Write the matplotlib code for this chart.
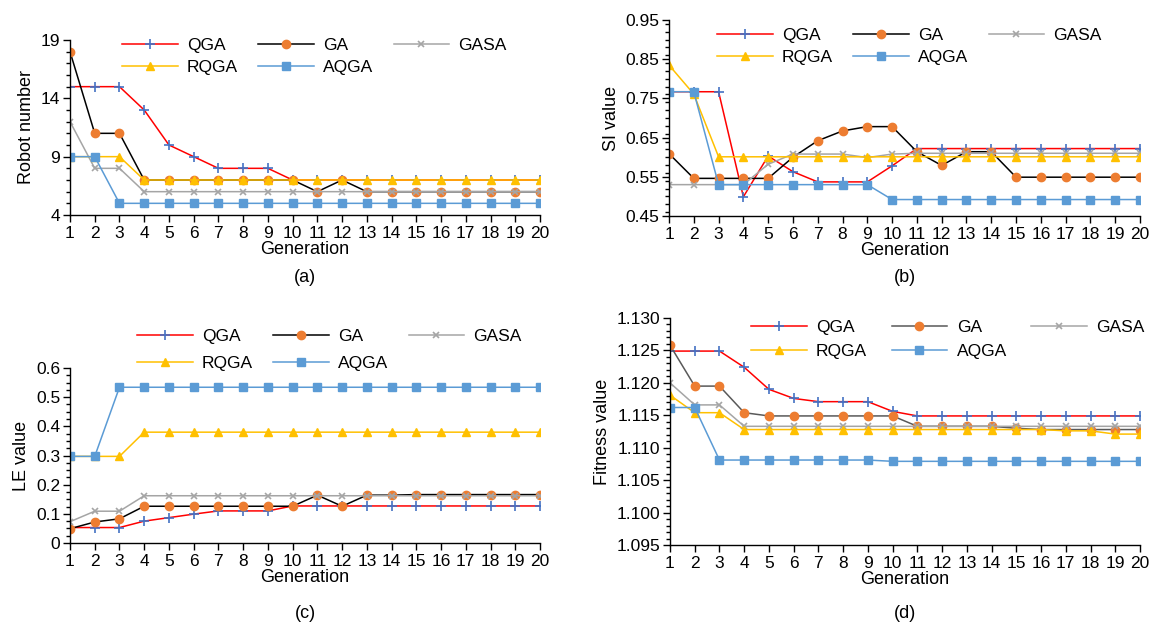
import matplotlib
matplotlib.use("Agg")
import matplotlib.pyplot as plt
from matplotlib.ticker import MultipleLocator

plt.rcParams['font.family'] = ['Liberation Sans', 'DejaVu Sans']

generations = list(range(1, 21))
series_names = ["QGA", "GA", "GASA", "RQGA", "AQGA"]

# (a) Robot number
robot_ticks = [4, 9, 14, 19]
robot_qga = [15, 15, 15, 13, 10, 9, 8, 8, 8, 7, 7, 7, 7, 7, 7, 7, 7, 7, 7, 7]
robot_ga = [18, 11, 11, 7, 7, 7, 7, 7, 7, 7, 6, 7, 6, 6, 6, 6, 6, 6, 6, 6]
robot_gasa = [12, 8, 8, 6, 6, 6, 6, 6, 6, 6, 6, 6, 6, 6, 6, 6, 6, 6, 6, 6]
robot_rqga = [9, 9, 9, 7, 7, 7, 7, 7, 7, 7, 7, 7, 7, 7, 7, 7, 7, 7, 7, 7]
robot_aqga = [9, 9, 5, 5, 5, 5, 5, 5, 5, 5, 5, 5, 5, 5, 5, 5, 5, 5, 5, 5]

# (b) SI value
si_ticks = [0.45, 0.55, 0.65, 0.75, 0.85, 0.95]
si_qga = [0.767, 0.767, 0.767, 0.499, 0.603, 0.563, 0.537, 0.537, 0.537, 0.578,
          0.622, 0.622, 0.622, 0.622, 0.622, 0.622, 0.622, 0.622, 0.622, 0.622]
si_ga = [0.609, 0.546, 0.546, 0.546, 0.546, 0.600, 0.642, 0.667, 0.678, 0.678,
         0.614, 0.579, 0.614, 0.614, 0.549, 0.549, 0.549, 0.549, 0.549, 0.549]
si_gasa = [0.530, 0.530, 0.530, 0.530, 0.582, 0.608, 0.608, 0.608, 0.599, 0.608,
           0.610, 0.610, 0.610, 0.610, 0.610, 0.610, 0.610, 0.610, 0.610, 0.610]
si_rqga = [0.835, 0.761, 0.601, 0.601, 0.601, 0.601, 0.601, 0.601, 0.601, 0.601,
           0.601, 0.601, 0.601, 0.601, 0.601, 0.601, 0.601, 0.601, 0.601, 0.601]
si_aqga = [0.767, 0.767, 0.530, 0.530, 0.530, 0.530, 0.530, 0.530, 0.530, 0.492,
           0.492, 0.492, 0.492, 0.492, 0.492, 0.492, 0.492, 0.492, 0.492, 0.492]

# (c) LE value
le_ticks = [0, 0.1, 0.2, 0.3, 0.4, 0.5, 0.6]
le_tick_labels = ["0", "0.1", "0.2", "0.3", "0.4", "0.5", "0.6"]
le_qga = [0.053, 0.053, 0.053, 0.075, 0.087, 0.099, 0.110, 0.110, 0.110, 0.127,
          0.127, 0.127, 0.127, 0.127, 0.127, 0.127, 0.127, 0.127, 0.127, 0.127]
le_ga = [0.049, 0.072, 0.083, 0.126, 0.126, 0.126, 0.126, 0.126, 0.126, 0.126,
         0.164, 0.126, 0.164, 0.164, 0.166, 0.166, 0.166, 0.166, 0.166, 0.166]
le_gasa = [0.073, 0.109, 0.109, 0.162, 0.162, 0.162, 0.162, 0.162, 0.162, 0.162,
           0.162, 0.162, 0.162, 0.162, 0.162, 0.162, 0.162, 0.162, 0.162, 0.162]
le_rqga = [0.297, 0.297, 0.297, 0.380, 0.380, 0.380, 0.380, 0.380, 0.380, 0.380,
           0.380, 0.380, 0.380, 0.380, 0.380, 0.380, 0.380, 0.380, 0.380, 0.380]
le_aqga = [0.297, 0.297, 0.534, 0.534, 0.534, 0.534, 0.534, 0.534, 0.534, 0.534,
           0.534, 0.534, 0.534, 0.534, 0.534, 0.534, 0.534, 0.534, 0.534, 0.534]

# (d) Fitness value
fit_ticks = [1.095, 1.100, 1.105, 1.110, 1.115, 1.120, 1.125, 1.130]
fit_qga = [1.1249, 1.1249, 1.1249, 1.1224, 1.1190, 1.1176, 1.1171, 1.1171, 1.1171, 1.1156,
           1.1149, 1.1149, 1.1149, 1.1149, 1.1149, 1.1149, 1.1149, 1.1149, 1.1149, 1.1149]
fit_ga = [1.1258, 1.1195, 1.1195, 1.1154, 1.1149, 1.1149, 1.1149, 1.1149, 1.1149, 1.1149,
          1.1133, 1.1133, 1.1133, 1.1133, 1.1130, 1.1128, 1.1128, 1.1128, 1.1128, 1.1128]
fit_gasa = [1.1200, 1.1166, 1.1166, 1.1133, 1.1133, 1.1133, 1.1133, 1.1133, 1.1133, 1.1133,
            1.1133, 1.1133, 1.1133, 1.1133, 1.1133, 1.1133, 1.1133, 1.1133, 1.1133, 1.1133]
fit_rqga = [1.1181, 1.1154, 1.1154, 1.1128, 1.1128, 1.1128, 1.1128, 1.1128, 1.1128, 1.1128,
            1.1128, 1.1128, 1.1128, 1.1128, 1.1128, 1.1128, 1.1126, 1.1126, 1.1121, 1.1121]
fit_aqga = [1.1162, 1.1162, 1.1081, 1.1081, 1.1081, 1.1081, 1.1081, 1.1081, 1.1081, 1.1079,
            1.1079, 1.1079, 1.1079, 1.1079, 1.1079, 1.1079, 1.1079, 1.1079, 1.1079, 1.1079]

W, H = 1156, 625
fig = plt.figure(figsize=(W / 100, H / 100), dpi=100)


def rect(x0, x1, ytop, ybot):
    return [x0 / W, 1 - ybot / H, (x1 - x0) / W, (ybot - ytop) / H]


def style(ga_line):
    return {
        "QGA": dict(color="#FF0000", marker="+", mec="#4472C4", mfc="#4472C4", ms=7, mew=1.2),
        "GA": dict(color=ga_line, marker="o", mec="#ED7D31", mfc="#ED7D31", ms=6),
        "GASA": dict(color="#A5A5A5", marker="x", mec="#A5A5A5", mfc="#A5A5A5", ms=5, mew=1.2),
        "RQGA": dict(color="#FFC000", marker="^", mec="#FFC000", mfc="#FFC000", ms=6),
        "AQGA": dict(color="#5B9BD5", marker="s", mec="#5B9BD5", mfc="#5B9BD5", ms=5.5),
    }


TFS = 12.5   # tick labels and legend
LFS = 13     # axis labels and panel tags


def panel(r, data, ylim, yticks, ylabels, minor, ylabel, leg_anchor, colsp, labsp, ga_line="black"):
    ax = fig.add_axes(r)
    st = style(ga_line)
    handles = {}
    for name, vals in zip(series_names, data):
        h, = ax.plot(generations, vals, lw=1.1, label=name, **st[name])
        handles[name] = h
    ax.set_xlim(1, 20)
    ax.set_ylim(*ylim)
    ax.set_xticks(generations)
    ax.set_yticks(yticks)
    ax.set_yticklabels(ylabels)
    ax.yaxis.set_minor_locator(MultipleLocator(minor))
    for s in ["top", "right"]:
        ax.spines[s].set_visible(False)
    for s in ["left", "bottom"]:
        ax.spines[s].set_color("black")
        ax.spines[s].set_linewidth(1.0)
    ax.tick_params(axis="both", which="major", labelsize=TFS, length=5, width=1, direction="out", colors="black")
    ax.tick_params(axis="y", which="minor", length=3, width=1, direction="out", colors="black")
    ax.tick_params(axis="x", which="major", pad=3)
    ax.tick_params(axis="y", which="major", pad=2)
    ax.set_xlabel("Generation", fontsize=LFS, labelpad=0)
    ax.set_ylabel(ylabel, fontsize=LFS, labelpad=4)
    order = ["QGA", "RQGA", "GA", "AQGA", "GASA"]
    ax.legend([handles[n] for n in order], order, ncol=3, loc="upper left",
              bbox_to_anchor=(leg_anchor[0] / W, 1 - leg_anchor[1] / H),
              bbox_transform=fig.transFigure, frameon=False, fontsize=TFS,
              handlelength=3.2, handletextpad=0.55, columnspacing=colsp,
              labelspacing=labsp, borderpad=0, borderaxespad=0)
    cx = (r[0] + r[2] / 2)
    return ax, cx


ax_a, cx = panel(rect(70, 540, 40, 215),
                 [robot_qga, robot_ga, robot_gasa, robot_rqga, robot_aqga],
                 (4, 19), robot_ticks, [str(t) for t in robot_ticks], 1,
                 "Robot number", (122, 38), 1.15, 0.4)
fig.text(cx, 1 - 277 / H, "(a)", ha="center", va="center", fontsize=LFS)

ax_b, cx = panel(rect(669, 1140, 20, 216),
                 [si_qga, si_ga, si_gasa, si_rqga, si_aqga],
                 (0.45, 0.95), si_ticks, ["%.2f" % t for t in si_ticks], 0.02,
                 "SI value", (717, 28), 1.15, 0.4)
fig.text(cx, 1 - 277 / H, "(b)", ha="center", va="center", fontsize=LFS)

ax_c, cx = panel(rect(70, 540, 368, 543),
                 [le_qga, le_ga, le_gasa, le_rqga, le_aqga],
                 (0, 0.6), le_ticks, le_tick_labels, 0.025,
                 "LE value", (137, 329), 1.15, 0.65)
fig.text(cx, 1 - 614 / H, "(c)", ha="center", va="center", fontsize=LFS)

ax_d, cx = panel(rect(670, 1140, 318, 545),
                 [fit_qga, fit_ga, fit_gasa, fit_rqga, fit_aqga],
                 (1.095, 1.130), fit_ticks, ["%.3f" % t for t in fit_ticks], 0.001,
                 "Fitness value", (751, 320), 1.4, 0.5, ga_line="#595959")
fig.text(cx, 1 - 614 / H, "(d)", ha="center", va="center", fontsize=LFS)

fig.savefig("out.png", dpi=100)
